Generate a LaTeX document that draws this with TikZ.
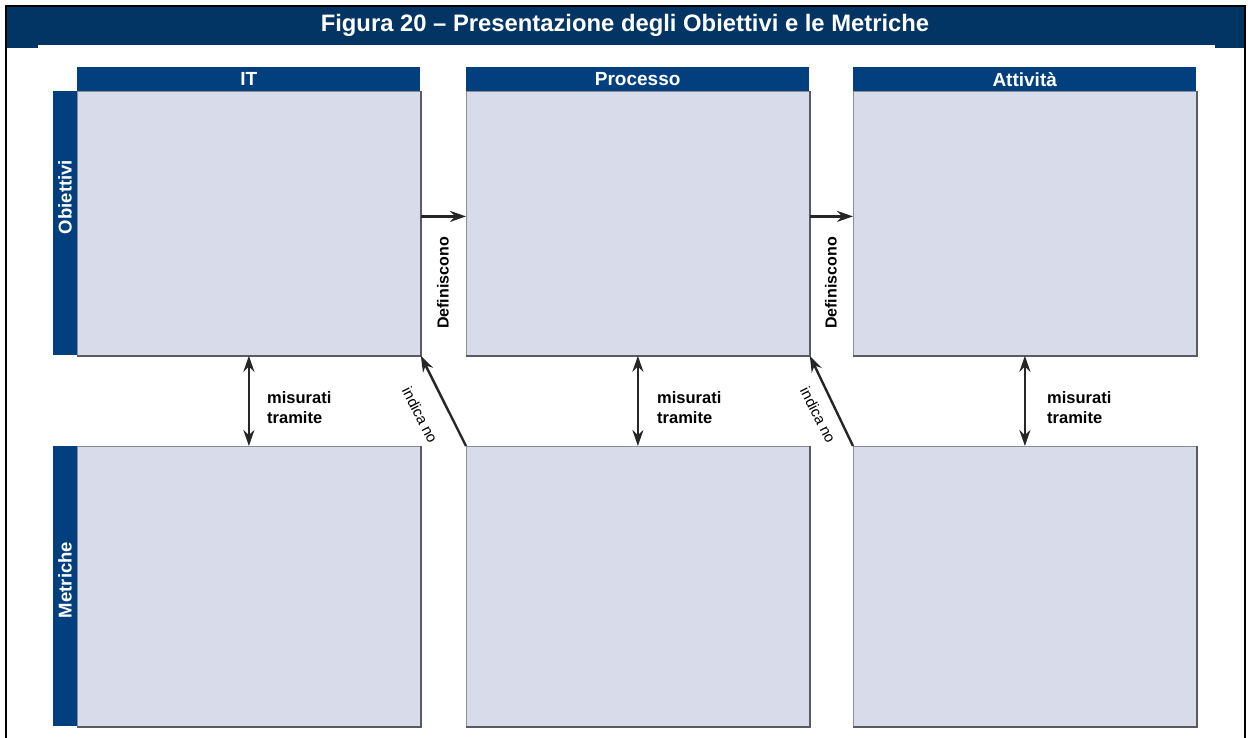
\documentclass[tikz,border=0pt]{standalone}
\usepackage{fontspec}
\setmainfont{Liberation Sans}
\usetikzlibrary{arrows.meta}

\definecolor{titleblue}{HTML}{033564}
\definecolor{headblue}{HTML}{023F7F}
\definecolor{boxfill}{HTML}{D8DBE9}
\definecolor{boxedge}{HTML}{8A8C98}
\definecolor{shade}{HTML}{5A5A60}

\tikzset{
  panel/.style={draw=boxedge, line width=0.8pt, fill=boxfill, anchor=north west,
    minimum width=343pt, minimum height=#1, inner sep=0pt},
  panelshade/.style={draw=shade, line width=1.6pt},
  header/.style={fill=headblue, anchor=north west, minimum width=343pt,
    minimum height=24pt, inner sep=0pt, text=white,
    font=\fontsize{19}{19}\selectfont\bfseries},
  sidebar/.style={fill=headblue, anchor=north west, minimum width=24pt,
    minimum height=#1, inner sep=0pt},
  sidelabel/.style={rotate=90, text=white, inner sep=0pt,
    font=\fontsize{18.5}{18.5}\selectfont\bfseries},
  tip/.tip={Stealth[length=16pt,width=11pt]},
  link/.style={line width=2.4pt, draw=black!85, -tip},
  twoway/.style={line width=2.4pt, draw=black!85, tip-tip},
  arrowlabel/.style={inner sep=0pt, font=\fontsize{16.5}{20}\selectfont\bfseries},
  slantlabel/.style={inner sep=0pt, font=\fontsize{15}{15}\selectfont},
}

\begin{document}
\begin{tikzpicture}[x=1pt, y=-1pt]
  \useasboundingbox (0,0) rectangle (1248,738);

  % outer frame (open at the bottom)
  \draw[line width=2pt, black] (6,738) -- (6,6) -- (1245,6) -- (1245,738);

  % title band
  \fill[titleblue] (7,7) rectangle (1244,45);
  \fill[titleblue] (7,44) rectangle (38,48);
  \fill[titleblue] (1215,44) rectangle (1244,48);
  \node[text=white, font=\fontsize{23.8}{24}\selectfont\bfseries] (title) at (625,25)
    {Figura 20 – Presentazione degli Obiettivi e le Metriche};

  % column headers
  \node[header] (hIT)  at (77,67)  {IT};
  \node[header] (hPr)  at (466,67) {Processo};
  \node[header] (hAt)  at (853,67) {Attività};

  % row side bars
  \node[sidebar=264pt] (sO) at (53,91)  {};
  \node[sidebar=280pt] (sM) at (53,446) {};
  \node[sidelabel] (lO) at (65,197) {Obiettivi};
  \node[sidelabel] (lM) at (65,580) {Metriche};

  % objective panels
  \node[panel=264pt] (o1) at (77,91)  {};
  \node[panel=264pt] (o2) at (466,91) {};
  \node[panel=264pt] (o3) at (853,91) {};
  % metric panels
  \node[panel=280pt] (m1) at (77,446)  {};
  \node[panel=280pt] (m2) at (466,446) {};
  \node[panel=280pt] (m3) at (853,446) {};

  % darker right/bottom edges of the panels
  \foreach \p in {o1,o2,o3,m1,m2,m3}{
    \draw[panelshade] (\p.north east) -- (\p.south east) -- (\p.south west);
  }

  % "Definiscono" links between objective panels
  \draw[link] ([yshift=7pt]o1.east) -- ([yshift=7pt]o2.west);
  \draw[link] ([yshift=7pt]o2.east) -- ([yshift=7pt]o3.west);
  \node[arrowlabel, font=\fontsize{16}{16}\selectfont\bfseries, rotate=90] (d1) at (443,283) {Definiscono};
  \node[arrowlabel, font=\fontsize{16}{16}\selectfont\bfseries, rotate=90] (d2) at (831,283) {Definiscono};

  % "misurati tramite" links between objectives and metrics
  \draw[twoway] (o1.south) -- (m1.north);
  \draw[twoway] (o2.south) -- (m2.north);
  \draw[twoway] (o3.south) -- (m3.north);
  \node[arrowlabel, align=left, anchor=west] (t1) at (267,408) {misurati\\tramite};
  \node[arrowlabel, align=left, anchor=west] (t2) at (657,408) {misurati\\tramite};
  \node[arrowlabel, align=left, anchor=west] (t3) at (1047,408) {misurati\\tramite};

  % "indicano" links from metrics back to the previous objectives
  \draw[link] (m2.north west) -- (o1.south east);
  \draw[link] (m3.north west) -- (o2.south east);
  \node[slantlabel, rotate=-63] (i1) at (420,415) {indica no};
  \node[slantlabel, rotate=-63] (i2) at (818,415) {indica no};
\end{tikzpicture}
\end{document}
